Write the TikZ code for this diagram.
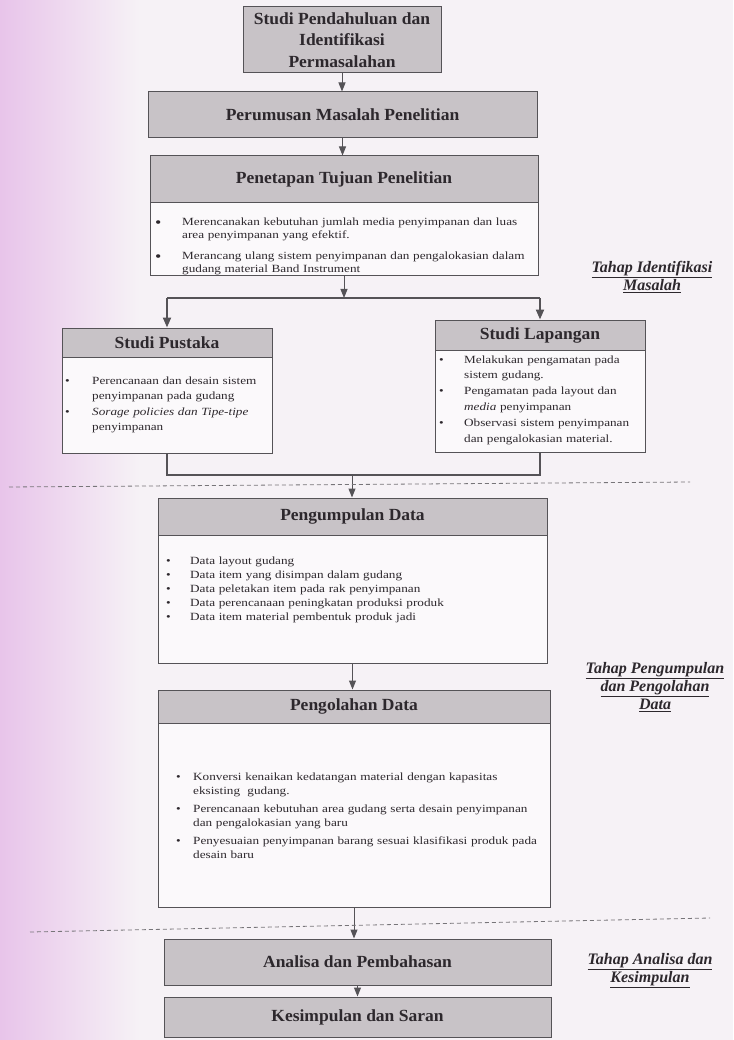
\documentclass[tikz,border=0pt]{standalone}
\usepackage{fontspec}
\setmainfont{Liberation Serif}
\newfontfamily\hdrfont{Liberation Serif}[FakeStretch=1.03]
\newfontfamily\bdyfont{Liberation Serif}[FakeStretch=1.2]
\usetikzlibrary{arrows.meta}
\definecolor{bgc}{RGB}{246,242,246}
\definecolor{pinkc}{RGB}{232,196,234}
\definecolor{hdrc}{RGB}{200,195,199}
\definecolor{bodc}{RGB}{251,249,251}
\definecolor{lnc}{RGB}{85,83,87}
\definecolor{txc}{RGB}{45,40,45}
\newcommand\bulit[2]{\noindent\hangindent=#1\hangafter=1\makebox[#1][l]{\textbullet}#2\par}
\newcommand\bigbulit[2]{\noindent\hangindent=#1\hangafter=1\makebox[#1][l]{\raisebox{-2pt}{\fontsize{15}{12}\selectfont\textbullet}}#2\par}
\tikzset{
  hdr/.style={draw=lnc, fill=hdrc, line width=1pt, inner sep=0pt, align=center, text=txc,
    font=\hdrfont\bfseries\fontsize{17}{21.5}\selectfont},
  bod/.style={draw=lnc, fill=bodc, line width=1pt, inner sep=0pt},
  btxt/.style={anchor=base west, inner sep=0pt, text width=420pt, align=left, text=txc},
  arr/.style={draw=lnc, line width=1pt, -{Triangle[length=9pt,width=7pt]}},
  thk/.style={draw=lnc, line width=2pt},
  tharr/.style={draw=lnc, line width=2pt, -{Triangle[length=10pt,width=8pt]}},
  dsh/.style={draw=lnc!80, line width=0.8pt, dash pattern=on 4pt off 3pt},
  lbl/.style={align=center, inner sep=0pt, text=txc, font=\bfseries\itshape\fontsize{16}{18}\selectfont}
}
\begin{document}
\begin{tikzpicture}[x=1pt,y=-1pt]
\useasboundingbox (0,0) rectangle (733,1040);
\fill[bgc] (0,0) rectangle (733,1040);
\shade[left color=pinkc, right color=bgc] (0,0) rectangle (140,1040);

% top boxes
\node[hdr, minimum width=198pt, minimum height=66pt] (b1) at (342,40) {Studi Pendahuluan dan\\Identifikasi\\Permasalahan};
\node[hdr, minimum width=389pt, minimum height=46pt] (b2) at (342.5,115) {Perumusan Masalah Penelitian};
\node[hdr, minimum width=388pt, minimum height=47pt] (b3h) at (344,179.5) {Penetapan Tujuan Penelitian};
\node[bod, minimum width=388pt, minimum height=73pt] (b3b) at (344,239.5) {};
\node[btxt, font=\bdyfont\fontsize{11}{12.7}\selectfont] (b3t) at (155,226) {\parskip=8pt
\bigbulit{27pt}{Merencanakan kebutuhan jumlah media penyimpanan dan luas\newline area penyimpanan yang efektif.}
\bigbulit{27pt}{Merancang ulang sistem penyimpanan dan pengalokasian dalam\newline gudang material Band Instrument}};

% Studi Pustaka
\node[hdr, minimum width=210pt, minimum height=29pt] (ph) at (167,342.5) {Studi Pustaka};
\node[bod, minimum width=210pt, minimum height=96pt] (pb) at (167,405) {};
\node[btxt, font=\bdyfont\fontsize{11}{15.5}\selectfont] (pt) at (65,384) {\parskip=0pt
\bulit{27pt}{Perencanaan dan desain sistem\newline penyimpanan pada gudang}
\bulit{27pt}{\textit{Sorage policies dan Tipe-tipe}\newline penyimpanan}};

% Studi Lapangan
\node[hdr, minimum width=210pt, minimum height=30pt] (lh) at (540,335) {Studi Lapangan};
\node[bod, minimum width=210pt, minimum height=102pt] (lb) at (540,401) {};
\node[btxt, font=\bdyfont\fontsize{11}{15.8}\selectfont] (lt) at (439,363) {\parskip=0pt
\bulit{25pt}{Melakukan pengamatan pada\newline sistem gudang.}
\bulit{25pt}{Pengamatan pada layout dan\newline \textit{media} penyimpanan}
\bulit{25pt}{Observasi sistem penyimpanan\newline dan pengalokasian material.}};

% Pengumpulan Data
\node[hdr, minimum width=389pt, minimum height=37pt] (gh) at (352.5,516.5) {Pengumpulan Data};
\node[bod, minimum width=389pt, minimum height=128pt] (gb) at (352.5,599) {};
\node[btxt, font=\bdyfont\fontsize{11}{14}\selectfont] (gt) at (166,564) {\parskip=0pt
\bulit{24pt}{Data layout gudang}
\bulit{24pt}{Data item yang disimpan dalam gudang}
\bulit{24pt}{Data peletakan item pada rak penyimpanan}
\bulit{24pt}{Data perencanaan peningkatan produksi produk}
\bulit{24pt}{Data item material pembentuk produk jadi}};

% Pengolahan Data
\node[hdr, minimum width=392pt, minimum height=33pt] (oh) at (354,706.5) {Pengolahan Data};
\node[bod, minimum width=392pt, minimum height=184pt] (ob) at (354,815) {};
\node[btxt, font=\bdyfont\fontsize{11}{14}\selectfont] (ot) at (176,780) {\parskip=4pt
\bulit{17pt}{Konversi kenaikan kedatangan material dengan kapasitas\newline eksisting\ \ gudang.}
\bulit{17pt}{Perencanaan kebutuhan area gudang serta desain penyimpanan\newline dan pengalokasian yang baru}
\bulit{17pt}{Penyesuaian penyimpanan barang sesuai klasifikasi produk pada\newline desain baru}};

% Analisa, Kesimpulan
\node[hdr, minimum width=387pt, minimum height=46pt] (an) at (357.5,962) {Analisa dan Pembahasan};
\node[hdr, minimum width=387pt, minimum height=40pt] (ks) at (357.5,1017) {Kesimpulan dan Saran};

% connectors
\draw[arr] (b1.south) -- (b1.south |- b2.north);
\draw[arr] (b2.south) -- (b2.south |- b3h.north);
\coordinate (split) at (344,298);
\draw[thk] (ph.north |- split) -- (lh.north |- split);
\draw[arr] (b3b.south) -- (split);
\draw[tharr] (ph.north |- split) -- (ph.north);
\draw[tharr] (lh.north |- split) -- (lh.north);
\coordinate (join) at (352,475);
\draw[thk] (pb.south) -- (pb.south |- join) -- (lb.south |- join) -- (lb.south);
\draw[arr] (join) -- (join |- gh.north);
\draw[arr] (gb.south) -- (gb.south |- oh.north);
\draw[arr] (ob.south) -- (ob.south |- an.north);
\draw[arr] (an.south) -- (an.south |- ks.north);

% dashed separators
\coordinate (d1a) at (9,487); \coordinate (d1b) at (690,482);
\coordinate (d2a) at (30,932); \coordinate (d2b) at (710,918);
\draw[dsh] (d1a) -- (d1b);
\draw[dsh] (d2a) -- (d2b);

% side labels
\node[lbl] (l1) at (652,277) {\underline{Tahap Identifikasi}\\\underline{Masalah}};
\node[lbl] (l2) at (655,687) {\underline{Tahap Pengumpulan}\\\underline{dan Pengolahan}\\\underline{Data}};
\node[lbl] (l3) at (650,971) {\underline{Tahap Analisa dan}\\\underline{Kesimpulan}};
\end{tikzpicture}
\end{document}
